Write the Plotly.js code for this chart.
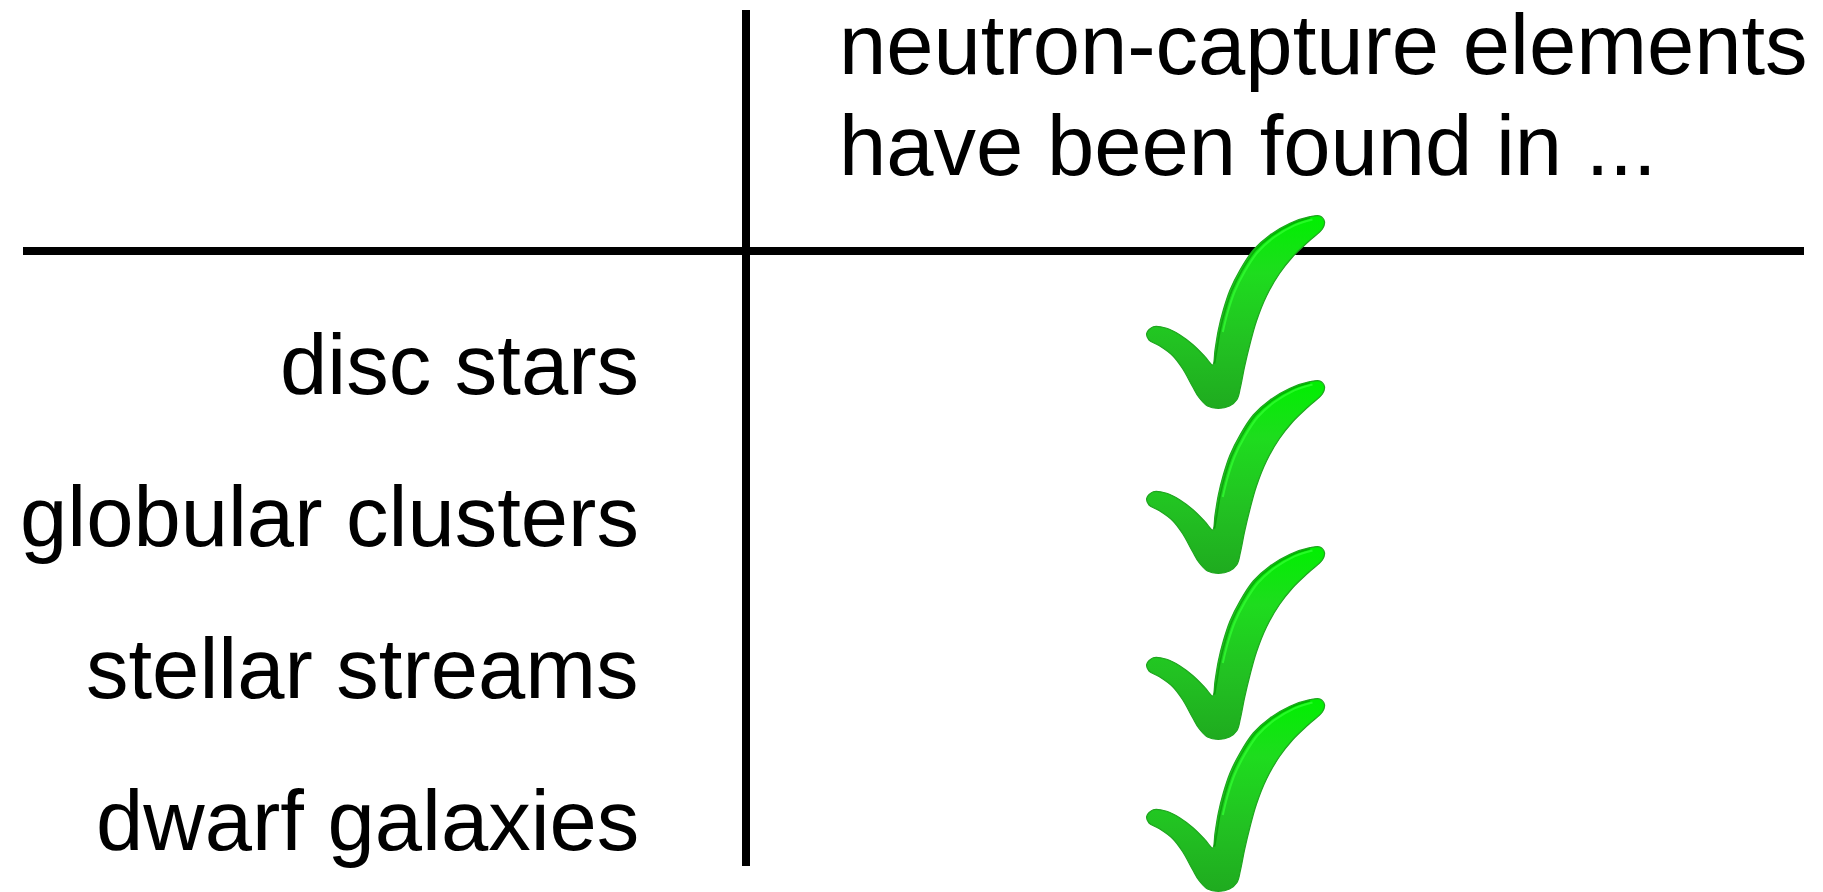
<!DOCTYPE html>
<html>
<head>
<meta charset="utf-8">
<script src="https://cdn.plot.ly/plotly-3.0.1.min.js"></script>
<style>
  html, body { margin: 0; padding: 0; background: #ffffff; overflow: hidden; }
  #chart { width: 1823px; height: 892px; }
</style>
</head>
<body>
<div id="chart"></div>
<script>
// ---------------- data ----------------
const headerLines = ["neutron-capture elements", "have been found in ..."];
const objectTypes = ["disc stars", "globular clusters", "stellar streams", "dwarf galaxies"];
const found = [true, true, true, true];

// ---------------- layout constants (positions / styles) ----------------
const W = 1823, H = 892;
const FONT = "Liberation Sans, Arial, Helvetica, sans-serif";
const FS = 85;
const headerX = 838;
const headerBaselines = [74, 175];
const labelX = 641;
const rowBaselines = [395, 547, 699, 851];
const checkTopY = [216, 381, 547, 699];   // top of the check tip for each row
const checkLeftX = 1146;
const DESC = 19;  // distance from baseline to bottom of annotation box

// check-mark glyph outline, relative to (left x, top y) of the glyph
const checkGlyph = [
  [0.7,117.3],[7.3,110.7],[20.7,112.3],[34,119],[47.3,129],[59,140.7],[66.7,149],
  [69,134],[72.3,114],[77.3,94],[84,74],[94,54],[107.3,34],[124,19],[144,7.3],
  [164,0.7],[174,0],[178.5,5.7],[176.5,12.8],[162,26],[146.5,41],[133.5,57.5],
  [120.5,80],[110.5,105],[104,128],[98.5,151],[94.5,171],[91,183.5],
  [83.5,190],[72.3,192.3],[61.5,190],[53,181.5],[46.5,170.5],[36.5,152.5],
  [26.5,139.5],[13,129.5],[3,124],[0.7,117.3]
];
// darker crease along the inner edge of the long stroke
const creaseGlyph = [[66.7,147],[69,134],[72.3,114],[77.3,94],[84,74],[94,54],[107.3,34],[124,19],[144,7.3],[162,1.5]];

const traces = [];
found.forEach((f, i) => {
  if (!f) return;
  const x0 = checkLeftX, y0 = checkTopY[i];
  traces.push({
    type: "scatter", mode: "lines",
    x: checkGlyph.map(p => x0 + p[0]),
    y: checkGlyph.map(p => y0 + p[1]),
    fill: "toself",
    fillgradient: {
      type: "vertical",
      colorscale: [[0, "#1fab1f"], [0.35, "#22c222"], [0.7, "#1edc1e"], [1, "#00f000"]]
    },
    line: { color: "#1fa51f", width: 1.2, shape: "spline", smoothing: 1 },
    hoverinfo: "skip", showlegend: false
  });
  traces.push({
    type: "scatter", mode: "lines",
    x: creaseGlyph.map(p => x0 + p[0] + 1.8),
    y: creaseGlyph.map(p => y0 + p[1] + 0.6),
    line: { color: "rgba(0,140,0,0.6)", width: 1.6, shape: "spline", smoothing: 1 },
    hoverinfo: "skip", showlegend: false
  });
  traces.push({
    type: "scatter", mode: "lines",
    x: creaseGlyph.slice(2).map(p => x0 + p[0] + 4.5),
    y: creaseGlyph.slice(2).map(p => y0 + p[1] + 2),
    line: { color: "rgba(50,255,50,0.75)", width: 2, shape: "spline", smoothing: 1 },
    hoverinfo: "skip", showlegend: false
  });
});

const annotations = [];
headerLines.forEach((t, i) => {
  annotations.push({
    text: t, x: headerX, y: headerBaselines[i] + DESC, xref: "x", yref: "y",
    xanchor: "left", yanchor: "bottom", showarrow: false, borderpad: 0,
    font: { family: FONT, size: FS, color: "#000000" }
  });
});
objectTypes.forEach((t, i) => {
  annotations.push({
    text: t, x: labelX, y: rowBaselines[i] + DESC, xref: "x", yref: "y",
    xanchor: "right", yanchor: "bottom", showarrow: false,
    font: { family: FONT, size: FS, color: "#000000" }
  });
});

const shapes = [
  { type: "line", xref: "x", yref: "y", x0: 746, x1: 746, y0: 10, y1: 866,
    line: { color: "#000000", width: 8 }, layer: "below" },
  { type: "line", xref: "x", yref: "y", x0: 23, x1: 1804, y0: 251, y1: 251,
    line: { color: "#000000", width: 8 }, layer: "below" }
];

const layout = {
  width: W, height: H,
  margin: { l: 0, r: 0, t: 0, b: 0, pad: 0 },
  paper_bgcolor: "#ffffff", plot_bgcolor: "#ffffff",
  xaxis: { range: [0, W], visible: false, fixedrange: true },
  yaxis: { range: [H, 0], visible: false, fixedrange: true },
  showlegend: false,
  annotations: annotations,
  shapes: shapes
};

Plotly.newPlot("chart", traces, layout, { staticPlot: true, displayModeBar: false });
</script>
</body>
</html>
